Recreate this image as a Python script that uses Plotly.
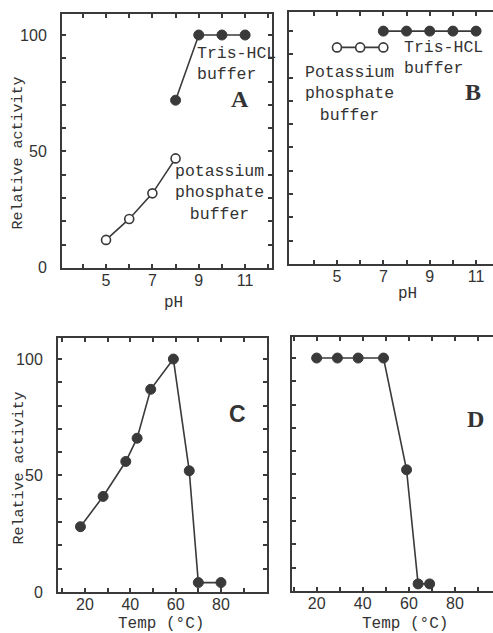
import plotly.graph_objects as go

# ---- data ----
ph_tris_A = [8, 9, 10, 11]
act_tris_A = [72, 100, 100, 100]
ph_kp_A = [5, 6, 7, 8]
act_kp_A = [12, 21, 32, 47]

ph_tris_B = [7, 8, 9, 10, 11]
act_tris_B = [100, 100, 100, 100, 100]
ph_kp_B = [5, 6, 7]
act_kp_B = [93, 93, 93]

temp_C = [18, 28, 38, 43, 49, 59, 66, 70, 80]
act_C = [28, 41, 56, 66, 87, 100, 52, 4, 4]

temp_D = [20, 29, 38, 49, 59, 64, 69]
act_D = [100, 100, 100, 100, 52, 3, 3]

ph_tickvals = [4, 5, 6, 7, 8, 9, 10, 11, 12]
ph_ticktext = ["", "5", "", "7", "", "9", "", "11", ""]
temp_tickvals = [10, 20, 30, 40, 50, 60, 70, 80, 90, 100]
temp_ticktext = ["", "20", "", "40", "", "60", "", "80", "", ""]
act_tickvals = [0, 10, 20, 30, 40, 50, 60, 70, 80, 90, 100]
act_ticktext = ["0", "", "", "", "", "50", "", "", "", "", "100"]

W, H = 493, 633
HV = 622  # effective vertical extent observed in the rendered picture
INK = "#3a3a3a"
TXT = "#333333"
MONO = "Liberation Mono"


def px(x):
    return x / W


def py(y):
    return 1 - y / HV


fig = go.Figure()

filled = dict(color=INK, size=10, line=dict(color=INK, width=1))
hollow = dict(color="white", size=9, line=dict(color=INK, width=1.6))
ln = dict(color=INK, width=1.6)

fig.add_trace(go.Scatter(x=ph_tris_A, y=act_tris_A, mode="lines+markers", marker=filled, line=ln, xaxis="x", yaxis="y"))
fig.add_trace(go.Scatter(x=ph_kp_A, y=act_kp_A, mode="lines+markers", marker=hollow, line=ln, xaxis="x", yaxis="y"))
fig.add_trace(go.Scatter(x=ph_tris_B, y=act_tris_B, mode="lines+markers", marker=filled, line=ln, xaxis="x2", yaxis="y2"))
fig.add_trace(go.Scatter(x=ph_kp_B, y=act_kp_B, mode="lines+markers", marker=hollow, line=ln, xaxis="x2", yaxis="y2"))
fig.add_trace(go.Scatter(x=temp_C, y=act_C, mode="lines+markers", marker=filled, line=ln, xaxis="x3", yaxis="y3"))
fig.add_trace(go.Scatter(x=temp_D, y=act_D, mode="lines+markers", marker=filled, line=ln, xaxis="x4", yaxis="y4"))


def xax(dom, rng, tv, tt, anchor):
    return dict(domain=[px(dom[0]), px(dom[1])], range=rng, tickvals=tv, ticktext=tt,
                ticks="inside", ticklen=4, tickwidth=1.5, tickcolor=INK,
                showline=True, linecolor=INK, linewidth=2, mirror="ticks",
                showgrid=False, zeroline=False, anchor=anchor, ticklabelstandoff=-3,
                tickfont=dict(family="Liberation Sans", size=16, color=TXT))


def yax(dom, rng, labels, mirror, anchor):
    return dict(domain=[py(dom[1]), py(dom[0])], range=rng, tickvals=act_tickvals,
                ticktext=act_ticktext if labels else [""] * len(act_tickvals),
                ticks="inside", ticklen=4, tickwidth=1.5, tickcolor=INK,
                showline=True, linecolor=INK, linewidth=2, mirror=mirror,
                showgrid=False, zeroline=False, anchor=anchor, ticklabelstandoff=10,
                tickfont=dict(family="Liberation Sans", size=16, color=TXT))


fig.update_layout(
    width=W, height=H, margin=dict(l=0, r=0, t=0, b=0),
    paper_bgcolor="white", plot_bgcolor="white", showlegend=False,
    xaxis=xax((62, 272), [3.1, 12.16], ph_tickvals, ph_ticktext, "y"),
    yaxis=yax((14, 267), [0, 109], True, "ticks", "x"),
    xaxis2=xax((289, 493), [2.93, 11.73], ph_tickvals, ph_ticktext, "y2"),
    yaxis2=yax((12, 263), [0, 108.2], False, False, "x2"),
    xaxis3=xax((58, 267), [8.1, 100.3], temp_tickvals, temp_ticktext, "y3"),
    yaxis3=yax((337, 590), [0, 109], True, "ticks", "x3"),
    xaxis4=xax((292, 493), [9.3, 96.5], temp_tickvals, temp_ticktext, "y4"),
    yaxis4=yax((336, 589), [0, 109], False, False, "x4"),
)

ann = []
mono = dict(family=MONO, size=16.5, color=TXT)
letter = dict(family="Liberation Serif", size=24, color=TXT)

# panel texts
ann.append(dict(text="Tris-HCL<br>buffer", x=8.85, y=87.5, xref="x", yref="y", xanchor="left", yanchor="middle", align="left", font=mono))
ann.append(dict(text="potassium<br>phosphate<br>buffer", x=9.9, y=32, xref="x", yref="y", xanchor="center", yanchor="middle", align="center", font=mono))
ann.append(dict(text="<b>A</b>", x=10.8, y=72.5, xref="x", yref="y", font=letter))
ann.append(dict(text="Tris-HCL<br>buffer", x=7.8, y=88.6, xref="x2", yref="y2", xanchor="left", yanchor="middle", align="left", font=mono))
ann.append(dict(text="Potassium<br>phosphate<br>buffer", x=5.56, y=73, xref="x2", yref="y2", xanchor="center", yanchor="middle", align="center", font=mono))
ann.append(dict(text="<b>B</b>", x=10.87, y=73.7, xref="x2", yref="y2", font=letter))
ann.append(dict(text="<b>C</b>", x=87.5, y=76.3, xref="x3", yref="y3", font=dict(family="Liberation Sans", size=23, color=TXT)))
ann.append(dict(text="<b>D</b>", x=88.7, y=73.7, xref="x4", yref="y4", font=letter))

# axis titles
ttl = dict(family=MONO, size=16, color=TXT)
for (x, y, t) in [(173, 302, "pH"), (407, 293, "pH"), (161, 622, "Temp (°C)"), (405, 622, "Temp (°C)")]:
    ann.append(dict(text=t, x=px(x), y=py(y), xref="paper", yref="paper", showarrow=False, font=ttl, xanchor="center", yanchor="middle"))
for (x, y) in [(18, 153), (20, 467)]:
    ann.append(dict(text="Relative activity", x=px(x), y=py(y), xref="paper", yref="paper", showarrow=False,
                    font=dict(family=MONO, size=15, color=TXT), textangle=-90, xanchor="center", yanchor="middle"))

for a in ann:
    a.setdefault("showarrow", False)
fig.update_layout(annotations=ann)

fig.write_html("out.html", config={"displayModeBar": False},
               post_script="document.body.style.margin='0';")
